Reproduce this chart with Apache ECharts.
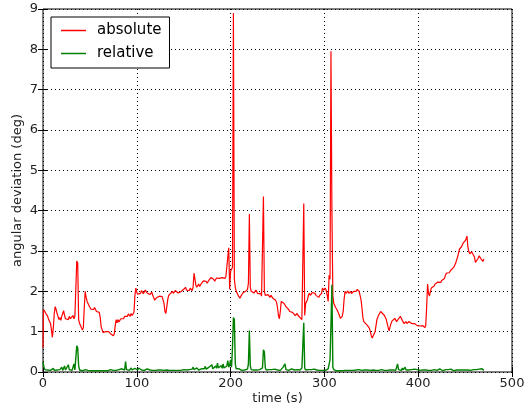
<!DOCTYPE html>
<html>
<head>
<meta charset="utf-8">
<script src="https://cdn.jsdelivr.net/npm/echarts@6/dist/echarts.min.js"></script>
<style>html,body{margin:0;padding:0;background:#fff}#c{width:526px;height:409px}</style>
</head>
<body>
<div id="c"></div>
<script>
const seriesNames = ['absolute', 'relative'];
const xTicks = [0, 100, 200, 300, 400, 500];
const yTicks = [0, 1, 2, 3, 4, 5, 6, 7, 8, 9];
// absolute: [time (s), deviation (deg)]
const absolute = [
[0,0.6],[0.5,1.55],[1,1.58],[2,1.5],[3,1.45],[4,1.42],[5,1.38],[6,1.3],[7,1.28],[8,1.2],[9,1.05],[10,0.86],[11,1.1],[12,1.45],[13,1.62],[14,1.55],[15,1.45],[16,1.38],[17,1.3],[18,1.35],[19,1.28],
[20,1.38],[21,1.45],[22,1.52],[23,1.4],[24,1.32],[25,1.28],[26,1.35],[27,1.3],[28,1.38],[29,1.32],[30,1.36],[31,1.3],[32,1.4],[33,1.32],[34,1.38],[35,1.35],[36,2.75],[37,2.7],[38,1.3],[39,1.2],
[40,1.15],[41,1.1],[42,1.04],[43,1.1],[44,1.6],[45,2.0],[46,1.85],[47,1.75],[48,1.7],[49,1.65],[50,1.62],[51,1.56],[52,1.6],[53,1.52],[54,1.55],[55,1.6],[56,1.58],[57,1.5],[58,1.52],[59,1.47],[60,1.48],[61,1.35],[62,1.12],[63,1.05],[64,0.98],
[65,0.96],[66,0.98],[67,1.0],[68,0.97],[69,1.03],[70,1.0],[71,0.96],[72,0.95],[73,0.93],[74,0.94],[75,0.9],[76,0.95],[77,1.15],[78,1.3],[79,1.22],[80,1.3],[81,1.24],[82,1.28],[83,1.32],[84,1.35],[85,1.3],[86,1.32],[87,1.38],[88,1.4],[89,1.35],
[90,1.38],[91,1.44],[92,1.42],[93,1.38],[94,1.45],[95,1.4],[96,1.42],[97,1.48],[98,1.9],[99,2.08],[100,1.98],[101,1.93],[102,1.9],[103,1.97],[104,1.95],[105,2.02],[106,2.0],[107,1.94],[108,1.98],[109,2.03],[110,2.02],[111,1.96],[112,1.95],[113,1.99],[114,1.92],[115,1.96],[116,1.98],[117,1.9],[118,1.85],[119,1.78],[120,1.8],
[121,1.84],[122,1.86],[123,1.82],[124,1.88],[125,1.85],[126,1.9],[127,1.87],[128,1.85],[129,1.7],[130,1.5],[131,1.45],[132,1.62],[133,1.8],[134,1.9],[135,1.92],[136,1.95],[137,1.99],[138,2.0],[139,1.95],[140,1.98],[141,2.02],[142,2.04],[143,1.98],[144,1.96],[145,1.92],[146,1.93],[147,1.99],[148,2.02],[149,2.0],[150,2.05],
[151,2.08],[152,2.1],[153,2.03],[154,2.05],[155,2.0],[156,2.02],[157,2.08],[158,2.06],[159,2.02],[160,2.1],[161,2.45],[162,2.3],[163,2.15],[164,2.1],[165,2.14],[166,2.18],[167,2.12],[168,2.15],[169,2.2],[170,2.22],[171,2.26],[172,2.3],[173,2.24],[174,2.25],[175,2.2],[176,2.22],[177,2.28],[178,2.3],[179,2.34],[180,2.38],[181,2.33],[182,2.3],
[183,2.25],[184,2.28],[185,2.33],[186,2.35],[187,2.29],[188,2.32],[189,2.36],[190,2.3],[191,2.34],[192,2.38],[193,2.3],[194,2.32],[195,2.37],[196,2.35],[197,2.4],[198,3.08],[199,2.05],[200,2.5],[201,2.55],[202,2.6],[203,8.9],[204,2.3],[205,2.1],[206,2.0],[207,1.95],[208,1.9],[209,1.86],
[210,1.83],[211,1.88],[212,1.9],[213,1.96],[214,1.95],[215,1.99],[216,2.0],[217,1.97],[218,2.05],[219,2.2],[220,3.92],[221,2.1],[222,2.0],[223,2.04],[224,2.02],[225,1.96],[226,1.98],[227,2.03],[228,2.0],[229,1.94],[230,1.9],[231,1.93],[232,1.95],[233,1.88],[234,1.92],[235,4.35],[236,2.0],[237,1.9],
[238,1.88],[239,1.94],[240,1.92],[241,1.88],[242,1.85],[243,1.9],[244,1.88],[245,1.83],[246,1.8],[247,1.84],[248,1.78],[249,1.72],[250,1.6],[251,1.4],[252,1.32],[253,1.5],[254,1.75],[255,1.78],[256,1.72],[257,1.7],[258,1.68],[259,1.62],[260,1.58],[261,1.6],[262,1.55],[263,1.5],[264,1.52],[265,1.47],[266,1.48],[267,1.5],[268,1.45],
[269,1.4],[270,1.42],[271,1.45],[272,1.4],[273,1.36],[274,1.35],[275,1.38],[276,1.3],[277,1.28],[278,4.18],[279,1.4],[280,1.7],[281,1.75],[282,1.8],[283,1.9],[284,1.95],[285,1.9],[286,1.92],[287,1.97],[288,1.98],[289,1.93],[290,1.95],[291,1.9],[292,1.9],[293,1.86],[294,1.85],[295,1.9],[296,1.88],[297,1.95],[298,2.08],[299,2.03],[300,2.05],
[301,2.08],[302,2.02],[303,1.9],[304,1.75],[305,2.4],[306,2.3],[307,7.95],[308,4.0],[309,1.9],[310,1.7],[311,1.65],[312,1.6],[313,1.56],[314,1.52],[315,1.46],[316,1.4],[317,1.33],[318,1.3],[319,1.38],[320,1.5],[321,1.8],[322,2.0],[323,1.95],[324,1.98],
[325,2.01],[326,1.95],[327,1.98],[328,2.0],[329,1.94],[330,1.97],[331,2.0],[332,2.02],[333,1.97],[334,2.0],[335,2.05],[336,2.03],[337,2.0],[338,1.98],[339,1.8],[340,1.6],[341,1.35],[342,1.25],[343,1.22],[344,1.2],[345,1.18],[346,1.15],[347,1.12],[348,1.08],[349,1.0],[350,0.9],[351,0.84],[352,0.9],
[353,0.95],[354,1.0],[355,1.15],[356,1.3],[357,1.36],[358,1.42],[359,1.46],[360,1.5],[361,1.48],[362,1.45],[363,1.42],[364,1.4],[365,1.35],[366,1.3],[367,1.2],[368,1.1],[369,1.02],[370,1.12],[371,1.2],[372,1.26],[373,1.3],[374,1.28],[375,1.33],[376,1.3],[377,1.25],[378,1.28],[379,1.32],[380,1.35],[381,1.38],
[382,1.33],[383,1.28],[384,1.24],[385,1.2],[386,1.23],[387,1.25],[388,1.2],[389,1.22],[390,1.25],[391,1.27],[392,1.23],[393,1.2],[394,1.22],[395,1.18],[396,1.2],[397,1.22],[398,1.17],[399,1.15],[400,1.19],[401,1.18],[402,1.14],[403,1.12],[404,1.16],[405,1.15],[406,1.12],[407,1.1],[408,1.15],[409,1.6],[410,2.18],[411,1.95],[412,1.88],
[413,2.0],[414,2.08],[415,2.05],[416,2.1],[417,2.13],[418,2.18],[419,2.15],[420,2.2],[421,2.23],[422,2.25],[423,2.2],[424,2.22],[425,2.27],[426,2.3],[427,2.28],[428,2.32],[429,2.4],[430,2.45],[431,2.42],[432,2.48],[433,2.46],[434,2.5],[435,2.53],[436,2.55],[437,2.52],[438,2.6],[439,2.65],[440,2.7],[441,2.78],[442,2.85],[443,2.95],[444,3.05],
[445,3.02],[446,3.1],[447,3.15],[448,3.2],[449,3.18],[450,3.25],[451,3.3],[452,3.37],[453,3.1],[454,2.98],[455,2.93],[456,2.95],[457,2.98],[458,3.0],[459,3.02],[460,2.85],[461,2.72],[462,2.7],[463,2.76],[464,2.82],[465,2.88],[466,2.85],[467,2.8],[468,2.78],[469,2.74],[470,2.8]
];
// relative: one value per second, starting at t = 0 s
const relative = [
0.25,0.12,0.06,0.04,0.08,0.05,0.03,0.06,0.04,0.07,
0.05,0.09,0.04,0.06,0.03,0.05,0.08,0.04,0.06,0.05,
0.12,0.04,0.06,0.15,0.05,0.08,0.04,0.18,0.06,0.05,
0.1,0.04,0.07,0.2,0.05,0.08,0.65,0.6,0.15,0.05,
0.04,0.06,0.03,0.05,0.04,0.06,0.03,0.05,0.04,0.03,
0.05,0.03,0.04,0.06,0.03,0.04,0.05,0.03,0.04,0.06,
0.03,0.05,0.04,0.03,0.06,0.04,0.03,0.05,0.04,0.03,
0.05,0.04,0.06,0.03,0.05,0.04,0.03,0.06,0.04,0.05,
0.04,0.06,0.03,0.05,0.08,0.04,0.06,0.05,0.26,0.06,
0.05,0.08,0.04,0.06,0.1,0.05,0.07,0.04,0.09,0.06,
0.08,0.05,0.1,0.06,0.08,0.05,0.09,0.06,0.04,0.07,
0.05,0.08,0.04,0.06,0.05,0.03,0.06,0.04,0.05,0.07,
0.04,0.06,0.03,0.05,0.04,0.06,0.05,0.03,0.05,0.04,
0.06,0.04,0.05,0.03,0.06,0.04,0.05,0.07,0.04,0.05,
0.06,0.04,0.05,0.08,0.04,0.06,0.05,0.04,0.07,0.05,
0.06,0.04,0.08,0.05,0.07,0.04,0.06,0.09,0.05,0.07,
0.12,0.06,0.08,0.05,0.1,0.07,0.05,0.09,0.06,0.08,
0.1,0.06,0.08,0.14,0.07,0.09,0.06,0.12,0.08,0.1,
0.18,0.08,0.12,0.07,0.15,0.09,0.22,0.1,0.08,0.12,
0.16,0.09,0.2,0.1,0.13,0.08,0.15,0.28,0.12,0.18,
0.3,0.12,0.6,1.35,1.3,0.2,0.08,0.1,0.06,0.08,
0.05,0.07,0.04,0.06,0.08,0.05,0.06,0.04,0.07,0.2,
1.03,0.15,0.06,0.04,0.07,0.05,0.06,0.04,0.05,0.07,
0.04,0.06,0.05,0.08,0.1,0.55,0.5,0.1,0.05,0.07,
0.04,0.06,0.05,0.03,0.06,0.04,0.05,0.07,0.04,0.06,
0.05,0.08,0.06,0.04,0.07,0.05,0.12,0.08,0.2,0.06,
0.05,0.07,0.04,0.06,0.05,0.08,0.04,0.06,0.05,0.07,
0.04,0.06,0.05,0.08,0.05,0.06,0.1,0.12,1.22,0.1,
0.05,0.07,0.04,0.06,0.05,0.03,0.06,0.04,0.05,0.07,
0.04,0.06,0.05,0.03,0.06,0.04,0.05,0.07,0.04,0.06,
0.05,0.04,0.06,0.05,0.08,0.1,0.3,1.17,2.16,0.12,
0.06,0.04,0.05,0.03,0.04,0.06,0.03,0.05,0.04,0.03,
0.05,0.03,0.04,0.06,0.03,0.04,0.05,0.08,0.04,0.06,
0.05,0.04,0.06,0.03,0.05,0.04,0.03,0.06,0.04,0.05,
0.04,0.06,0.03,0.05,0.04,0.06,0.05,0.03,0.05,0.04,
0.06,0.04,0.05,0.03,0.06,0.04,0.05,0.07,0.04,0.05,
0.04,0.06,0.03,0.05,0.04,0.06,0.05,0.04,0.06,0.03,
0.05,0.04,0.06,0.05,0.03,0.06,0.04,0.08,0.2,0.06,
0.05,0.08,0.04,0.1,0.05,0.07,0.12,0.05,0.08,0.06,
0.05,0.09,0.04,0.06,0.1,0.05,0.07,0.04,0.08,0.06,
0.05,0.07,0.04,0.06,0.03,0.05,0.04,0.06,0.05,0.03,
0.06,0.04,0.05,0.07,0.04,0.05,0.03,0.06,0.04,0.05,
0.04,0.06,0.05,0.08,0.04,0.06,0.03,0.05,0.04,0.06,
0.05,0.03,0.06,0.04,0.05,0.07,0.04,0.05,0.03,0.06,
0.04,0.05,0.06,0.03,0.05,0.04,0.06,0.05,0.04,0.03,
0.05,0.04,0.06,0.05,0.03,0.06,0.04,0.05,0.04,0.06,
0.05,0.03,0.06,0.04,0.05,0.07,0.04,0.05,0.08,0.06,
0.04
];

const chart = echarts.init(document.getElementById('c'), null, {renderer: 'canvas'});
const font = 'DejaVu Sans';
const tickStyle = {inside: true, length: 5, lineStyle: {color: '#000', width: 1}};
const splitStyle = {show: true, lineStyle: {color: '#000', width: 1, type: [1, 3]}};
const mkX = (pos, main) => ({
  type: 'value', position: pos, min: xTicks[0], max: xTicks[xTicks.length - 1],
  interval: xTicks[1] - xTicks[0],
  name: main ? 'time (s)' : '', nameLocation: 'middle', nameGap: 20, nameMoveOverlap: false,
  nameTextStyle: {fontFamily: font, fontSize: 13, color: '#222'},
  axisLine: {show: false}, axisTick: tickStyle,
  axisLabel: {show: main, fontFamily: font, fontSize: 13, color: '#222', margin: 5},
  splitLine: main ? splitStyle : {show: false}
});
const mkY = (pos, main) => ({
  type: 'value', position: pos, min: yTicks[0], max: yTicks[yTicks.length - 1],
  interval: yTicks[1] - yTicks[0],
  name: main ? 'angular deviation (deg)' : '', nameLocation: 'middle', nameGap: 19, nameMoveOverlap: false,
  nameTextStyle: {fontFamily: font, fontSize: 13, color: '#222'},
  axisLine: {show: false}, axisTick: tickStyle,
  axisLabel: {show: main, fontFamily: font, fontSize: 13, color: '#222', margin: 5},
  splitLine: main ? splitStyle : {show: false}
});
chart.setOption({
  animation: false,
  backgroundColor: '#fff',
  grid: {left: 43, right: 14, top: 9, bottom: 37, show: true, borderColor: '#000', borderWidth: 1,
         backgroundColor: 'transparent', containLabel: false, outerBoundsMode: 'none'},
  xAxis: [mkX('bottom', true), mkX('top', false)],
  yAxis: [mkY('left', true), mkY('right', false)],
  legend: {
    left: 51, top: 17, orient: 'vertical', padding: [6, 8, 7, 10], itemGap: 8,
    itemWidth: 25, itemHeight: 1.5, icon: 'rect',
    borderColor: '#000', borderWidth: 1, borderRadius: 0, backgroundColor: '#fff',
    textStyle: {fontFamily: font, fontSize: 15, color: '#000', padding: [0, 0, 0, 6]},
    data: seriesNames
  },
  series: [
    {name: seriesNames[0], type: 'line', data: absolute, showSymbol: false, symbol: 'none',
     lineStyle: {color: '#ff0000', width: 1.2}, itemStyle: {color: '#ff0000'}},
    {name: seriesNames[1], type: 'line', data: relative.map((v, i) => [i, v]), showSymbol: false, symbol: 'none',
     lineStyle: {color: '#008000', width: 1.4}, itemStyle: {color: '#008000'}}
  ]
});
</script>
</body>
</html>
